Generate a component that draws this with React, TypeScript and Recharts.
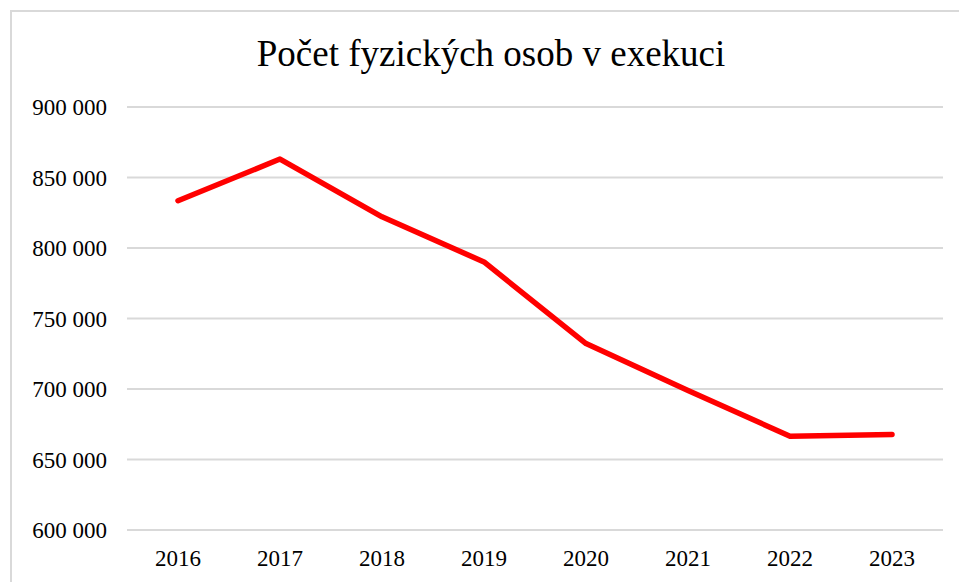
/**
 * Počet fyzických osob v exekuci
 *
 * Line chart of the number of persons in enforcement proceedings, 2016–2023.
 */

import React from 'react';
import { LineChart, Line, XAxis, YAxis, CartesianGrid } from 'recharts';

const years = ['2016', '2017', '2018', '2019', '2020', '2021', '2022', '2023'];
const persons = [833500, 863100, 822100, 790100, 732200, 699000, 666500, 667800];
const yTicks = [600000, 650000, 700000, 750000, 800000, 850000, 900000];

const data = years.map((year, i) => ({ year, persons: persons[i] }));

const FONT = '"Liberation Serif", "Times New Roman", serif';
const GRID_COLOR = '#d9d9d9';
const LINE_COLOR = '#ff0000';

const formatThousands = (v: number) => String(v).replace(/\B(?=(\d{3})+(?!\d))/g, ' ');

export default function App() {
    return (
        <div
            style={{
                position: 'absolute',
                left: 0,
                top: 0,
                width: 959,
                height: 582,
                overflow: 'hidden',
                background: '#fff',
            }}
        >
            {/* chart frame, only left and top edges are visible */}
            <div
                style={{
                    position: 'absolute',
                    left: 10,
                    top: 10,
                    width: 1000,
                    height: 1000,
                    borderLeft: `2px solid ${GRID_COLOR}`,
                    borderTop: `2px solid ${GRID_COLOR}`,
                }}
            />
            <div
                style={{
                    position: 'absolute',
                    left: 0,
                    top: 35,
                    width: 982,
                    textAlign: 'center',
                    fontFamily: FONT,
                    fontSize: 37,
                    lineHeight: '37px',
                    color: '#000',
                }}
            >
                Počet fyzických osob v exekuci
            </div>
            <div style={{ position: 'absolute', left: 0, top: 0 }}>
                <LineChart
                    width={959}
                    height={582}
                    data={data}
                    margin={{ top: 107, right: 16, left: 0, bottom: 22 }}
                >
                    <CartesianGrid vertical={false} stroke={GRID_COLOR} strokeWidth={2} />
                    <XAxis
                        dataKey="year"
                        axisLine={false}
                        tickLine={false}
                        tickMargin={14}
                        height={30}
                        padding={{ left: 51, right: 51 }}
                        tick={{ fill: '#000', fontFamily: FONT, fontSize: 23 }}
                    />
                    <YAxis
                        domain={[600000, 900000]}
                        ticks={yTicks}
                        width={127}
                        axisLine={false}
                        tickLine={false}
                        tickMargin={14}
                        tickFormatter={formatThousands}
                        tick={{ fill: '#000', fontFamily: FONT, fontSize: 23 }}
                    />
                    <Line
                        type="linear"
                        dataKey="persons"
                        stroke={LINE_COLOR}
                        strokeWidth={5.5}
                        strokeLinecap="round"
                        strokeLinejoin="round"
                        dot={false}
                        isAnimationActive={false}
                    />
                </LineChart>
            </div>
        </div>
    );
}
